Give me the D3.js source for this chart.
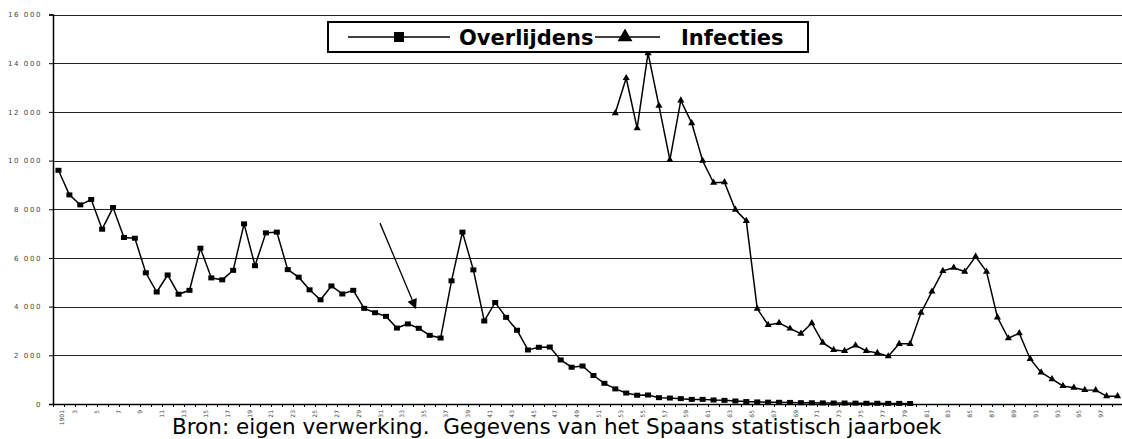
<!DOCTYPE html>
<html>
<head>
<meta charset="utf-8">
<script src="https://cdn.jsdelivr.net/npm/d3@7"></script>
<style>
  body { margin: 0; background: #fff; }
  svg { display: block; }
  text { font-family: "DejaVu Sans", Verdana, sans-serif; }
</style>
</head>
<body>
<svg id="chart"></svg>
<script>
// years on the category axis: 1901 .. 1998
let years = d3.range(1901, 1999)
let tickLabels = years.filter(y => (y - 1901) % 2 === 0).map(y => y === 1901 ? '1901' : String(y % 100))

// Overlijdens 1901 - 1979
let deathYears = d3.range(1901, 1980)
let deaths = [
  9600, 8590, 8180, 8400, 7180, 8070, 6840, 6810, 5390, 4600,
  5300, 4510, 4670, 6400, 5180, 5100, 5490, 7400, 5680, 7030,
  7060, 5520, 5210, 4690, 4280, 4850, 4520, 4670, 3930, 3750,
  3600, 3120, 3290, 3110, 2820, 2710, 5060, 7060, 5510, 3410,
  4170, 3560, 3030, 2220, 2330, 2340, 1810, 1510, 1560, 1170,
  850, 620, 450, 360, 370, 260, 245, 220, 190, 190,
  165, 150, 125, 100, 85, 75, 70, 65, 55, 50,
  45, 40, 40, 35, 30, 30, 25, 25, 20
]

// Infecties 1952 - 1998
let infYears = d3.range(1952, 1999)
let infections = [
  11950, 13390, 11330, 14410, 12250, 10030, 12470, 11540, 9990, 9090,
  9110, 7980, 7520, 3910, 3250, 3330, 3100, 2890, 3320, 2520,
  2220, 2180, 2410, 2180, 2100, 1960, 2470, 2470, 3750, 4620,
  5470, 5600, 5440, 6060, 5440, 3560, 2700, 2910, 1850, 1300,
  1020, 740, 670, 580, 570, 320, 320
]

let yTicks = [0, 2000, 4000, 6000, 8000, 10000, 12000, 14000, 16000]

// annotation arrow (year, value)
let arrowFrom = [1930.45, 7430]
let arrowTo = [1933.75, 3900]

let width = 1122
let height = 439
let plotLeft = 53
let plotRight = 1123
let plotTop = 14.5
let plotBottom = 404

let svg = d3.select('#chart').attr('width', width).attr('height', height)

let x = d3.scaleBand().domain(years).range([plotLeft, plotRight]).padding(0)
let bw = x.bandwidth()
let xc = d => x(d) + bw / 2
let xl = d3.scaleLinear().domain([1901, 1998]).range([xc(1901), xc(1998)])
let y = d3.scaleLinear().domain([0, 16000]).range([plotBottom, plotTop])

let fmt = d3.formatLocale({ decimal: ',', thousands: ' ', grouping: [3], currency: ['', ''] }).format(',')

// gridlines
svg.append('g')
   .selectAll('line')
   .data(yTicks.filter(d => d > 0))
   .enter()
   .append('line')
   .attr('x1', plotLeft).attr('x2', width)
   .attr('y1', d => Math.round(y(d)) + 0.5).attr('y2', d => Math.round(y(d)) + 0.5)
   .attr('stroke', '#222').attr('stroke-width', 1.2)

// y axis
let yAxis = d3.axisLeft(y).tickValues(yTicks).tickSize(4).tickPadding(7).tickFormat(fmt)
let gy = svg.append('g').attr('transform', 'translate(' + plotLeft + ',0)').call(yAxis)
gy.select('.domain').attr('stroke', '#000').attr('stroke-width', 1.5)
gy.selectAll('.tick line').attr('stroke', '#000')
gy.selectAll('.tick text')
  .attr('font-size', 7).attr('fill', '#444').style('letter-spacing', '1.6px')
  .attr('font-family', '"Liberation Sans", Arial, sans-serif')

// x axis: ticks between categories
let xAxis = d3.axisBottom(x).tickSize(0).tickFormat('')
let gx = svg.append('g').attr('transform', 'translate(0,' + plotBottom + ')').call(xAxis)
gx.select('.domain').attr('stroke', '#000').attr('stroke-width', 1.5)
gx.selectAll('.tick').remove()

svg.append('g')
   .selectAll('line')
   .data(years)
   .enter()
   .append('line')
   .attr('x1', d => Math.round(x(d)) + 0.5).attr('x2', d => Math.round(x(d)) + 0.5)
   .attr('y1', plotBottom).attr('y2', plotBottom + 3)
   .attr('stroke', '#000')

svg.append('g')
   .selectAll('text')
   .data(years.filter(y => (y - 1901) % 2 === 0))
   .enter()
   .append('text')
   .attr('transform', (d) => {
      let px = d === 1901 ? xc(d) + 3 : x(d)
      return 'translate(' + px + ',' + (plotBottom + 6) + ') rotate(-90)'
   })
   .attr('text-anchor', 'end')
   .attr('dy', '0.35em')
   .attr('font-size', 6)
   .attr('fill', '#444')
   .attr('font-family', '"Liberation Sans", Arial, sans-serif')
   .text((d, i) => tickLabels[i])

// lines
let line = d3.line().x(d => xc(d[0])).y(d => y(d[1]))

let deathPts = deathYears.map((yr, i) => [yr, deaths[i]])
let infPts = infYears.map((yr, i) => [yr, infections[i]])

svg.append('path')
   .datum(deathPts)
   .attr('d', line)
   .attr('fill', 'none').attr('stroke', '#000').attr('stroke-width', 1.5)

svg.append('path')
   .datum(infPts)
   .attr('d', line)
   .attr('fill', 'none').attr('stroke', '#000').attr('stroke-width', 1.5)

svg.append('g')
   .selectAll('rect')
   .data(deathPts)
   .enter()
   .append('rect')
   .attr('x', d => xc(d[0]) - 3)
   .attr('y', d => y(d[1]) - 2.5)
   .attr('width', 6).attr('height', 5)
   .attr('fill', '#000')

let tri = d3.symbol().type(d3.symbolTriangle).size(22)
svg.append('g')
   .selectAll('path')
   .data(infPts)
   .enter()
   .append('path')
   .attr('d', tri)
   .attr('transform', d => 'translate(' + xc(d[0]) + ',' + y(d[1]) + ')')
   .attr('fill', '#000')

// arrow annotation
let ax1 = xl(arrowFrom[0]), ay1 = y(arrowFrom[1])
let ax2 = xl(arrowTo[0]), ay2 = y(arrowTo[1])
let ang = Math.atan2(ay2 - ay1, ax2 - ax1)
let headLen = 10, headW = 5
let bx = ax2 - headLen * Math.cos(ang), by = ay2 - headLen * Math.sin(ang)
svg.append('line')
   .attr('x1', ax1).attr('y1', ay1).attr('x2', bx).attr('y2', by)
   .attr('stroke', '#000').attr('stroke-width', 1.3)
svg.append('path')
   .attr('d', 'M' + ax2 + ',' + ay2 +
              'L' + (bx + headW * Math.sin(ang)) + ',' + (by - headW * Math.cos(ang)) +
              'L' + (bx - headW * Math.sin(ang)) + ',' + (by + headW * Math.cos(ang)) + 'Z')
   .attr('fill', '#000')

// legend
let lg = svg.append('g')
lg.append('rect')
  .attr('x', 328).attr('y', 22).attr('width', 480).attr('height', 30)
  .attr('fill', '#fff').attr('stroke', '#000').attr('stroke-width', 2)
lg.append('line').attr('x1', 348).attr('x2', 450).attr('y1', 37).attr('y2', 37).attr('stroke', '#000').attr('stroke-width', 1.3)
lg.append('rect').attr('x', 394).attr('y', 32).attr('width', 10).attr('height', 10).attr('fill', '#000')
lg.append('text').attr('x', 459).attr('y', 44.5).attr('font-size', 21).attr('font-weight', 'bold').text('Overlijdens')
lg.append('line').attr('x1', 595).attr('x2', 660).attr('y1', 37).attr('y2', 37).attr('stroke', '#000').attr('stroke-width', 1.3)
lg.append('path').attr('d', d3.symbol().type(d3.symbolTriangle).size(95))
  .attr('transform', 'translate(625,37)').attr('fill', '#000')
lg.append('text').attr('x', 681).attr('y', 44.5).attr('font-size', 21).attr('font-weight', 'bold').text('Infecties')

// caption
svg.append('text')
   .attr('x', 172).attr('y', 434)
   .attr('font-size', 21.5)
   .style('white-space', 'pre')
   .attr('fill', '#000')
   .text('Bron: eigen verwerking.  Gegevens van het Spaans statistisch jaarboek')
</script>
</body>
</html>
